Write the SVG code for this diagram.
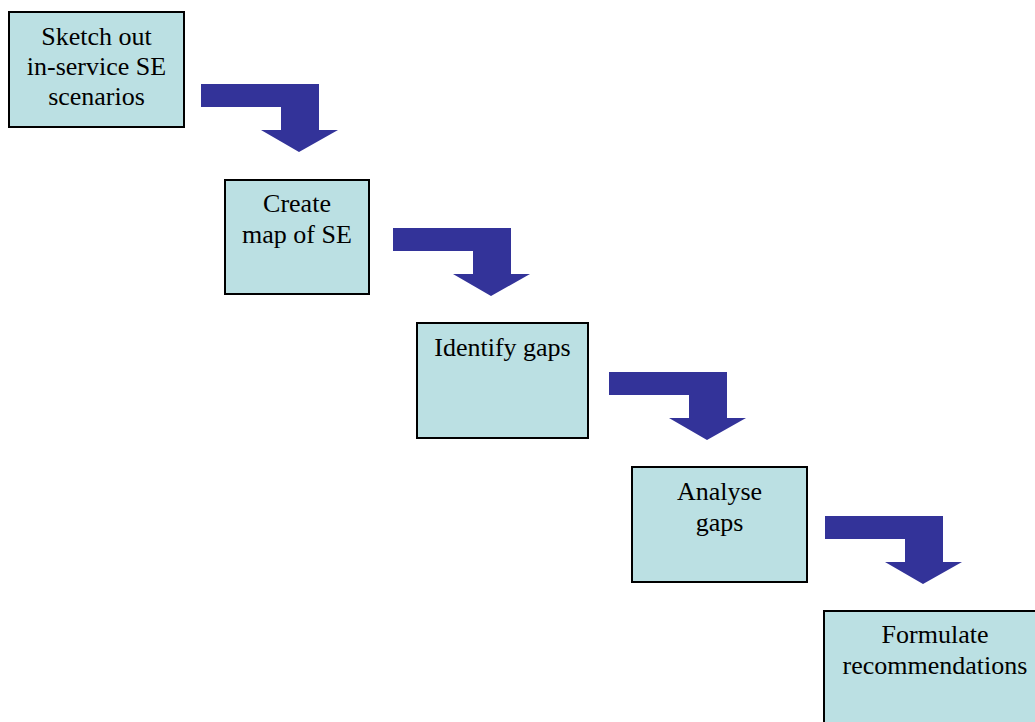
<svg xmlns="http://www.w3.org/2000/svg" width="1035" height="722" viewBox="0 0 1035 722">
<style>
.box{fill:#BBE0E3;stroke:#000;stroke-width:2}
.t{font-family:"Liberation Serif","Times New Roman",serif;font-size:26px;fill:#000;text-anchor:middle}
.arr{fill:#333399}
</style>
<defs>
<polygon id="bent" points="0,0 118,0 118,46 137,46 98,68 60,46 80,46 80,23 0,23"/>
</defs>
<rect width="1035" height="722" fill="#fff"/>
<g id="connectors">
<use href="#bent" class="arr" x="201" y="84"/>
<use href="#bent" class="arr" x="393" y="228"/>
<use href="#bent" class="arr" x="609" y="372"/>
<use href="#bent" class="arr" x="825" y="516"/>
</g>
<g id="n1">
<rect class="box" x="9" y="12" width="175" height="115"/>
<text class="t" x="96.5" y="45">Sketch out</text>
<text class="t" x="96.5" y="75">in-service SE</text>
<text class="t" x="96.5" y="105">scenarios</text>
</g>
<g id="n2">
<rect class="box" x="225" y="180" width="144" height="114"/>
<text class="t" x="297" y="212">Create</text>
<text class="t" x="297" y="243">map of SE</text>
</g>
<g id="n3">
<rect class="box" x="417" y="323" width="171" height="115"/>
<text class="t" x="502.5" y="356">Identify gaps</text>
</g>
<g id="n4">
<rect class="box" x="632" y="467" width="175" height="115"/>
<text class="t" x="719.5" y="500">Analyse</text>
<text class="t" x="719.5" y="531">gaps</text>
</g>
<g id="n5">
<rect class="box" x="824" y="611" width="222" height="120"/>
<text class="t" x="935" y="643">Formulate</text>
<text class="t" x="935" y="674">recommendations</text>
</g>
</svg>
